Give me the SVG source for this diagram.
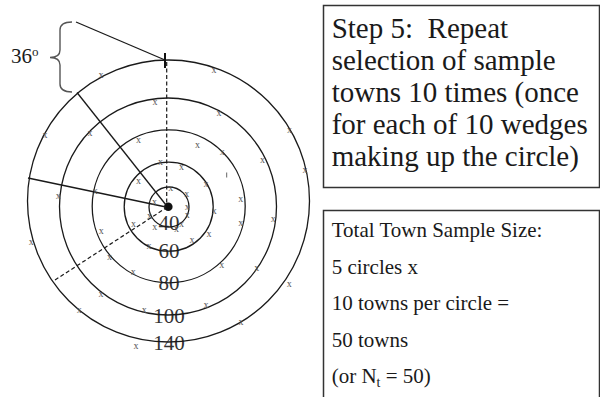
<svg xmlns="http://www.w3.org/2000/svg" width="600" height="397" viewBox="0 0 600 397">
<style>
.ring{fill:none;stroke:#1a1a1a;stroke-width:1.3}
.ln{stroke:#1a1a1a;stroke-width:1.3;fill:none}
.dash{stroke:#1a1a1a;stroke-width:1.2;stroke-dasharray:4 2.5;fill:none}
.box{fill:#fff;stroke:#333;stroke-width:1.5}
.x{font-family:"Liberation Serif",serif;font-size:10px;fill:#555;text-anchor:middle}
.lab{font-family:"Liberation Serif",serif;font-size:21px;fill:#333;text-anchor:middle}
.stp{font-family:"Liberation Serif",serif;font-size:29px;fill:#1a1a1a}
.med{font-family:"Liberation Serif",serif;font-size:21px;fill:#1a1a1a}
</style>
<rect width="600" height="397" fill="#fff"/>
<g id="labels">
<text class="lab" x="169" y="230">40</text>
<text class="lab" x="169" y="258">60</text>
<text class="lab" x="169" y="289.5">80</text>
<text class="lab" x="169" y="322.5">100</text>
<text class="lab" x="169" y="350">140</text>
</g>
<g id="circles">
<circle class="ring" cx="168.5" cy="201" r="141"/>
<circle class="ring" cx="168" cy="206.5" r="108.5"/>
<circle class="ring" cx="168.7" cy="206.3" r="76.5"/>
<circle class="ring" cx="168.7" cy="206.7" r="44.5"/>
<circle class="ring" cx="169" cy="207" r="20"/>
<circle cx="168.3" cy="206.7" r="4.3" fill="#111"/>
</g>
<g id="connectors">
<line class="dash" x1="166.7" y1="62" x2="166.7" y2="204"/>
<line class="dash" x1="55" y1="280" x2="166" y2="208"/>
<line class="ln" x1="77" y1="92.5" x2="166" y2="205"/>
<line class="ln" x1="28" y1="178" x2="166" y2="207"/>
<line class="ln" x1="76" y1="22" x2="165" y2="60"/>
<line x1="165" y1="53" x2="165" y2="68" stroke="#111" stroke-width="2"/>
</g>
<g id="brace">
<path d="M72 22 Q60 22 60 30 L60 50 Q60 57.5 50 57.5 Q60 57.5 60 65 L60 84 Q60 92 72 92" fill="none" stroke="#555" stroke-width="1.4"/>
<text x="11" y="63" font-family="Liberation Serif,serif" font-size="21" fill="#1a1a1a">36<tspan font-size="13" dy="-7">o</tspan></text>
</g>
<g id="marks">
<text class="x" x="214" y="73.3">x</text>
<text class="x" x="101" y="78.3">x</text>
<text class="x" x="155" y="105.3">x</text>
<text class="x" x="219" y="116.3">x</text>
<text class="x" x="289.5" y="133.3">x</text>
<text class="x" x="45" y="138.3">x</text>
<text class="x" x="90" y="135.8">x</text>
<text class="x" x="138.5" y="143.3">x</text>
<text class="x" x="197.5" y="148.3">x</text>
<text class="x" x="222.3" y="155.3">x</text>
<text class="x" x="262.5" y="163.3">x</text>
<text class="x" x="160.5" y="164.8">x</text>
<text class="x" x="181.5" y="170">x</text>
<text class="x" x="138.5" y="183.8">x</text>
<text class="x" x="206" y="186.6">x</text>
<text class="x" x="170.7" y="191.3">x</text>
<text class="x" x="186.7" y="196.6">x</text>
<text class="x" x="58.3" y="198.8">x</text>
<text class="x" x="95.3" y="194.3">x</text>
<text class="x" x="240.7" y="202">x</text>
<text class="x" x="305" y="173">x</text>
<text class="x" x="154.5" y="205.3">x</text>
<text class="x" x="187.3" y="210.3">x</text>
<text class="x" x="214.2" y="213.6">x</text>
<text class="x" x="273.3" y="221.6">x</text>
<text class="x" x="240.8" y="225.6">x</text>
<text class="x" x="187.3" y="218.3">x</text>
<text class="x" x="149.5" y="219.3">x</text>
<text class="x" x="133.5" y="227.3">x</text>
<text class="x" x="154.7" y="229.6">x</text>
<text class="x" x="181.5" y="227">x</text>
<text class="x" x="176.5" y="232.3">x</text>
<text class="x" x="209" y="237.3">x</text>
<text class="x" x="31.3" y="245">x</text>
<text class="x" x="101.3" y="234.3">x</text>
<text class="x" x="192" y="242.8">x</text>
<text class="x" x="149" y="248.6">x</text>
<text class="x" x="109.5" y="260.3">x</text>
<text class="x" x="221.8" y="268.3">x</text>
<text class="x" x="256.8" y="270.6">x</text>
<text class="x" x="133.3" y="275.3">x</text>
<text class="x" x="289.3" y="286.6">x</text>
<text class="x" x="101" y="297.3">x</text>
<text class="x" x="206" y="308.3">x</text>
<text class="x" x="79.2" y="313.3">x</text>
<text class="x" x="144.3" y="313.1">x</text>
<text class="x" x="241" y="324.6">x</text>
<text class="x" x="136" y="349.3">x</text>
<line x1="226.7" y1="172.5" x2="226.7" y2="177.5" stroke="#666" stroke-width="1"/>
</g>
<g id="step5">
<rect class="box" x="323.5" y="5.5" width="276" height="182"/>
<text class="stp" x="331.7" y="38" xml:space="preserve">Step 5:  Repeat</text>
<text class="stp" x="331.7" y="70">selection of sample</text>
<text class="stp" x="331.7" y="102">towns 10 times (once</text>
<text class="stp" x="331.7" y="134">for each of 10 wedges</text>
<text class="stp" x="331.7" y="166">making up the circle)</text>
</g>
<g id="total">
<path class="box" d="M323.5 397 V210.5 H599.5 V397" fill="none"/>
<text class="med" x="331.7" y="237">Total Town Sample Size:</text>
<text class="med" x="331.7" y="274">5 circles x</text>
<text class="med" x="331.7" y="310">10 towns per circle =</text>
<text class="med" x="331.7" y="346.5">50 towns</text>
<text class="med" x="331.7" y="383">(or N<tspan font-size="14" dy="4">t</tspan><tspan dy="-4"> = 50)</tspan></text>
</g>
</svg>
